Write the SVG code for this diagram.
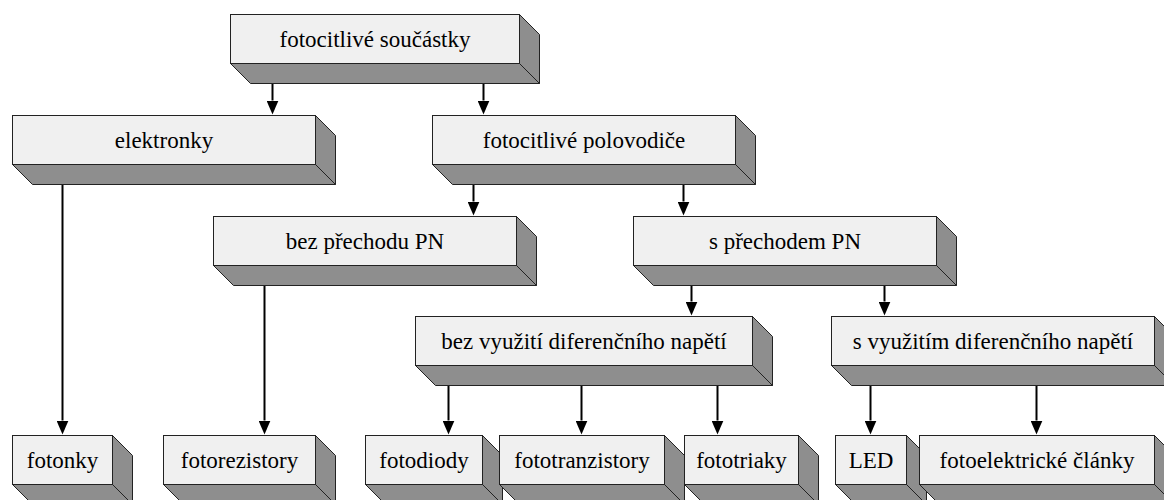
<svg xmlns="http://www.w3.org/2000/svg" width="1164" height="500" viewBox="0 0 1164 500">
<style>
.face{fill:#f0f0f0;stroke:#222;stroke-width:1}
.side{fill:#8e8e8e;stroke:#222;stroke-width:1;stroke-linejoin:round}
.lbl{font-family:'Liberation Serif','Times New Roman','DejaVu Serif',serif;font-size:23px;fill:#000;text-anchor:middle}
.conn{stroke:#000;stroke-width:2;fill:none}
</style>
<defs>
<marker id="ah" markerUnits="userSpaceOnUse" markerWidth="14" markerHeight="12" viewBox="0 0 14 12" refX="0" refY="6" orient="auto">
<path d="M0,0 L14,6 L0,12 z" fill="#000"/>
</marker>
</defs>
<rect width="1164" height="500" fill="#fff"/>

<g id="n-soucastky">
<polygon class="side" points="519.5,14.5 539.5,34.5 539.5,83.5 519.5,63.5"/>
<polygon class="side" points="230.5,63.5 519.5,63.5 539.5,83.5 250.5,83.5"/>
<rect class="face" x="230.5" y="14.5" width="289" height="49"/>
<text class="lbl" x="375" y="47">fotocitlivé součástky</text>
</g>

<g id="n-elektronky">
<polygon class="side" points="315.5,115.5 335.5,135.5 335.5,184.5 315.5,164.5"/>
<polygon class="side" points="12.5,164.5 315.5,164.5 335.5,184.5 32.5,184.5"/>
<rect class="face" x="12.5" y="115.5" width="303" height="49"/>
<text class="lbl" x="164" y="148">elektronky</text>
</g>

<g id="n-polovodice">
<polygon class="side" points="735.5,115.5 755.5,135.5 755.5,184.5 735.5,164.5"/>
<polygon class="side" points="432.5,164.5 735.5,164.5 755.5,184.5 452.5,184.5"/>
<rect class="face" x="432.5" y="115.5" width="303" height="49"/>
<text class="lbl" x="584" y="148">fotocitlivé polovodiče</text>
</g>

<g id="n-bez-pn">
<polygon class="side" points="516.5,216.5 536.5,236.5 536.5,285.5 516.5,265.5"/>
<polygon class="side" points="213.5,265.5 516.5,265.5 536.5,285.5 233.5,285.5"/>
<rect class="face" x="213.5" y="216.5" width="303" height="49"/>
<text class="lbl" x="365" y="249">bez přechodu PN</text>
</g>

<g id="n-s-pn">
<polygon class="side" points="936.5,216.5 956.5,236.5 956.5,285.5 936.5,265.5"/>
<polygon class="side" points="633.5,265.5 936.5,265.5 956.5,285.5 653.5,285.5"/>
<rect class="face" x="633.5" y="216.5" width="303" height="49"/>
<text class="lbl" x="785" y="249">s přechodem PN</text>
</g>

<g id="n-bez-vyuziti">
<polygon class="side" points="752.5,316.5 772.5,336.5 772.5,385.5 752.5,365.5"/>
<polygon class="side" points="415.5,365.5 752.5,365.5 772.5,385.5 435.5,385.5"/>
<rect class="face" x="415.5" y="316.5" width="337" height="49"/>
<text class="lbl" x="584" y="349">bez využití diferenčního napětí</text>
</g>

<g id="n-s-vyuzitim">
<polygon class="side" points="1154.5,316.5 1174.5,336.5 1174.5,385.5 1154.5,365.5"/>
<polygon class="side" points="831.5,365.5 1154.5,365.5 1174.5,385.5 851.5,385.5"/>
<rect class="face" x="831.5" y="316.5" width="323" height="49"/>
<text class="lbl" x="993" y="349">s využitím diferenčního napětí</text>
</g>

<g id="n-fotonky">
<polygon class="side" points="112.5,435.5 132.5,455.5 132.5,504.5 112.5,484.5"/>
<polygon class="side" points="12.5,484.5 112.5,484.5 132.5,504.5 32.5,504.5"/>
<rect class="face" x="12.5" y="435.5" width="100" height="49"/>
<text class="lbl" x="62.5" y="468">fotonky</text>
</g>

<g id="n-fotorezistory">
<polygon class="side" points="315.5,435.5 335.5,455.5 335.5,504.5 315.5,484.5"/>
<polygon class="side" points="163.5,484.5 315.5,484.5 335.5,504.5 183.5,504.5"/>
<rect class="face" x="163.5" y="435.5" width="152" height="49"/>
<text class="lbl" x="239.5" y="468">fotorezistory</text>
</g>

<g id="n-fotodiody">
<polygon class="side" points="482.5,435.5 502.5,455.5 502.5,504.5 482.5,484.5"/>
<polygon class="side" points="365.5,484.5 482.5,484.5 502.5,504.5 385.5,504.5"/>
<rect class="face" x="365.5" y="435.5" width="117" height="49"/>
<text class="lbl" x="424" y="468">fotodiody</text>
</g>

<g id="n-fototranzistory">
<polygon class="side" points="664.5,435.5 684.5,455.5 684.5,504.5 664.5,484.5"/>
<polygon class="side" points="499.5,484.5 664.5,484.5 684.5,504.5 519.5,504.5"/>
<rect class="face" x="499.5" y="435.5" width="165" height="49"/>
<text class="lbl" x="582" y="468">fototranzistory</text>
</g>

<g id="n-fototriaky">
<polygon class="side" points="798.5,435.5 818.5,455.5 818.5,504.5 798.5,484.5"/>
<polygon class="side" points="684.5,484.5 798.5,484.5 818.5,504.5 704.5,504.5"/>
<rect class="face" x="684.5" y="435.5" width="114" height="49"/>
<text class="lbl" x="741.5" y="468">fototriaky</text>
</g>

<g id="n-led">
<polygon class="side" points="906.5,435.5 926.5,455.5 926.5,504.5 906.5,484.5"/>
<polygon class="side" points="835.5,484.5 906.5,484.5 926.5,504.5 855.5,504.5"/>
<rect class="face" x="835.5" y="435.5" width="71" height="49"/>
<text class="lbl" x="871" y="468">LED</text>
</g>

<g id="n-fotoelektricke">
<polygon class="side" points="1154.5,435.5 1174.5,455.5 1174.5,504.5 1154.5,484.5"/>
<polygon class="side" points="919.5,484.5 1154.5,484.5 1174.5,504.5 939.5,504.5"/>
<rect class="face" x="919.5" y="435.5" width="235" height="49"/>
<text class="lbl" x="1037" y="468">fotoelektrické články</text>
</g>

<g id="connectors" class="conn">
<line x1="272.5" y1="84" x2="272.5" y2="100.5" marker-end="url(#ah)"/>
<line x1="483.5" y1="84" x2="483.5" y2="100.5" marker-end="url(#ah)"/>
<line x1="62.5" y1="185" x2="62.5" y2="420.5" marker-end="url(#ah)"/>
<line x1="473.5" y1="185" x2="473.5" y2="201.5" marker-end="url(#ah)"/>
<line x1="683.5" y1="185" x2="683.5" y2="201.5" marker-end="url(#ah)"/>
<line x1="264.5" y1="286" x2="264.5" y2="420.5" marker-end="url(#ah)"/>
<line x1="691.5" y1="286" x2="691.5" y2="301.5" marker-end="url(#ah)"/>
<line x1="884.5" y1="286" x2="884.5" y2="301.5" marker-end="url(#ah)"/>
<line x1="448.5" y1="386" x2="448.5" y2="420.5" marker-end="url(#ah)"/>
<line x1="581.5" y1="386" x2="581.5" y2="420.5" marker-end="url(#ah)"/>
<line x1="717.5" y1="386" x2="717.5" y2="420.5" marker-end="url(#ah)"/>
<line x1="870.5" y1="386" x2="870.5" y2="420.5" marker-end="url(#ah)"/>
<line x1="1036.5" y1="386" x2="1036.5" y2="420.5" marker-end="url(#ah)"/>
</g>
</svg>
